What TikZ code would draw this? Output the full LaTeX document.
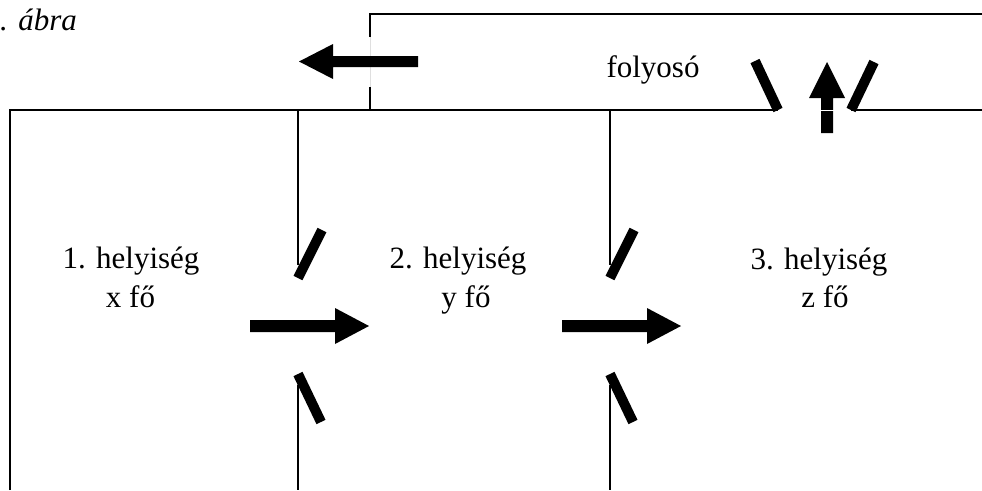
\documentclass[tikz,border=0pt]{standalone}
\usepackage{fontspec}
\setmainfont{Liberation Serif}
\newcommand{\szoveg}{\fontsize{31}{36}\selectfont}

\begin{document}
\begin{tikzpicture}[x=1pt,y=-1pt,
   fal/.style={line width=2.2pt,line join=miter},
   valaszfal/.style={line width=1.4pt},
   ajto/.style={line width=10pt},
   nyil/.style={fill=black},
   felirat/.style={inner sep=0pt,anchor=base,font=\szoveg}]
   \useasboundingbox (0,0) rectangle (982,490);
   % falak
   \draw[fal] ( 10,490) -- ( 10,110) -- (778,110);
   \draw[fal] (851,110) -- (982,110);
   \draw[fal] (982, 14) -- (370, 14) -- (370, 37);
   \draw[fal] (370, 87) -- (370,110);
   \draw[gray!25, line width=0.8pt] (370, 37) -- (370, 87);
   \draw[valaszfal] (298,110) -- (298,265);
   \draw[valaszfal] (298,385) -- (298,490);
   \draw[valaszfal] (610,110) -- (610,265);
   \draw[valaszfal] (610,385) -- (610,490);
   % ajtok
   \draw[ajto] (298,278) -- (322,230);
   \draw[ajto] (298,374) -- (321,422);
   \draw[ajto] (610,278) -- (634,230);
   \draw[ajto] (610,374) -- (633,422);
   \draw[ajto] (755, 61) -- (778,110);
   \draw[ajto] (874, 62) -- (851,110);
   % nyilak
   \fill[nyil] (418,56) -- (333,56) -- (333,44) -- (299,61.5) -- (333,79) -- (333,67) -- (418,67) -- cycle;
   \fill[nyil] (250,320) -- (335,320) -- (335,308) -- (369,326) -- (335,344) -- (335,332) -- (250,332) -- cycle;
   \fill[nyil] (562,320) -- (647,320) -- (647,308) -- (681,326) -- (647,344) -- (647,332) -- (562,332) -- cycle;
   \fill[nyil] (821,133) -- (821,98) -- (809,98) -- (827,62) -- (845,98) -- (833,98) -- (833,133) -- cycle;
   \draw[white, line width=0.8pt] (820,110) -- (834,110);
   % feliratok
   \node[felirat, anchor=base west, font=\szoveg\itshape] (cim) at (  0, 30) {. ábra};
   \node[felirat] (folyoso) at (653, 77) {folyosó};
   \node[felirat] (h1) at (131,268) {1. helyiség};
   \node[felirat] (f1) at (130.5,307) {x fő};
   \node[felirat] (h2) at (458,268) {2. helyiség};
   \node[felirat] (f2) at (466,307) {y fő};
   \node[felirat] (h3) at (819,269) {3. helyiség};
   \node[felirat] (f3) at (825,307) {z fő};
\end{tikzpicture}
\end{document}
